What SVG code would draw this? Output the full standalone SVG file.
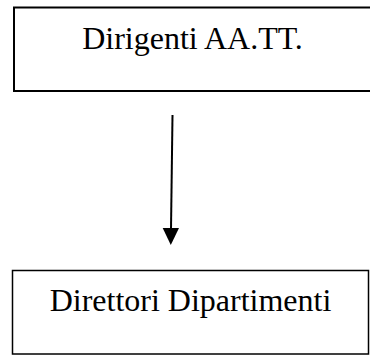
<svg xmlns="http://www.w3.org/2000/svg" width="370" height="355" viewBox="0 0 370 355">
<style>
.lbl{font-family:"Liberation Serif","Times New Roman",serif;font-size:32px;fill:#000;text-anchor:middle}
</style>
<rect width="370" height="355" fill="#fff"/>
<g id="node-dirigenti">
<rect x="14" y="7.5" width="362" height="83.5" fill="none" stroke="#000" stroke-width="2"/>
<text class="lbl" x="192.5" y="49">Dirigenti AA.TT.</text>
</g>
<g id="node-direttori">
<rect x="12.5" y="270.5" width="356" height="83.5" fill="none" stroke="#000" stroke-width="1.5"/>
<text class="lbl" x="190.5" y="311">Direttori Dipartimenti</text>
</g>
<g id="connectors">
<line x1="172.5" y1="115" x2="171" y2="229" stroke="#000" stroke-width="2"/>
<path d="M162.7,228 L179,228 L170.8,245 Z" fill="#000"/>
</g>
</svg>
